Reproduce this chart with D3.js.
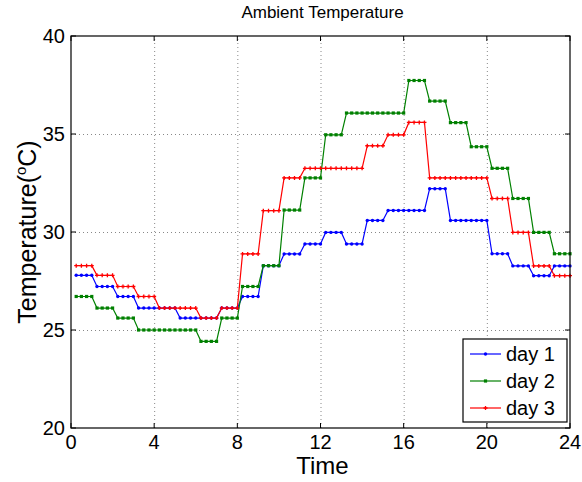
<!DOCTYPE html>
<html>
<head>
<meta charset="utf-8">
<script src="https://cdn.jsdelivr.net/npm/d3@7"></script>
<style>
  body { margin: 0; background: #fff; }
  svg { font-family: "Liberation Sans", Arial, sans-serif; }
  .grid line { stroke: #888; stroke-dasharray: 1 3; }
  .grid path { display: none; }
</style>
</head>
<body>
<div id="chart"></div>
<script>
// hourly readings (each held for four quarter-hour samples)
const hours = d3.range(1, 25);
const day1 = [27.79, 27.22, 26.71, 26.12, 26.12, 25.61, 25.61, 26.12, 26.71, 28.28, 28.88, 29.39,
              29.98, 29.39, 30.59, 31.10, 31.10, 32.21, 30.59, 30.59, 28.89, 28.27, 27.77, 28.27];
const day2 = [26.71, 26.12, 25.61, 25.00, 25.00, 25.00, 24.42, 25.61, 27.22, 28.28, 31.12, 32.76,
              34.96, 36.07, 36.07, 36.07, 37.73, 36.68, 35.58, 34.35, 33.25, 31.71, 29.98, 28.89];
const day3 = [28.28, 27.79, 27.22, 26.71, 26.12, 26.12, 25.61, 26.12, 28.88, 31.09, 32.76, 33.25,
              33.25, 33.25, 34.40, 34.96, 35.59, 32.76, 32.76, 32.76, 31.71, 29.98, 28.27, 27.77];
const seriesNames = ['day 1', 'day 2', 'day 3'];
const xTicks = [0, 4, 8, 12, 16, 20, 24];
const yTicks = [20, 25, 30, 35, 40];

const colors = ['#0000ff', '#008000', '#ff0000'];
const shapes = ['circle', 'square', 'plus'];

// quarter-hour samples: reading for hour h at h-0.75, h-0.5, h-0.25, h
const samples = vals => hours.flatMap((h, i) =>
  [0.75, 0.5, 0.25, 0].map(o => ({ t: h - o, v: vals[i] })));

const series = [day1, day2, day3].map((vals, i) => ({
  name: seriesNames[i], color: colors[i], shape: shapes[i], data: samples(vals),
}));

const W = 582, H = 482;
const margin = { top: 36, right: 12, bottom: 54, left: 71 };
const width = W - margin.left - margin.right;
const height = H - margin.top - margin.bottom;

const svg = d3.select('#chart').append('svg')
  .attr('width', W).attr('height', H);

const g = svg.append('g')
  .attr('transform', `translate(${margin.left},${margin.top})`);

const x = d3.scaleLinear().domain([0, 24]).range([0, width]);
const y = d3.scaleLinear().domain([20, 40]).range([height, 0]);

// grid
g.append('g').attr('class', 'grid')
  .attr('transform', `translate(0,${height})`)
  .call(d3.axisBottom(x).tickValues(xTicks.slice(1, -1)).tickSize(-height).tickFormat(''));
g.append('g').attr('class', 'grid')
  .call(d3.axisLeft(y).tickValues(yTicks.slice(1, -1)).tickSize(-width).tickFormat(''));

// lines
const line = d3.line().x(d => x(d.t)).y(d => y(d.v));

series.forEach((s) => {
  g.append('path')
    .attr('d', line(s.data))
    .attr('fill', 'none')
    .attr('stroke', s.color)
    .attr('stroke-width', 1.2);

  const m = g.append('g').selectAll('.m').data(s.data).enter();
  if (s.shape === 'circle') {
    m.append('circle')
      .attr('cx', d => x(d.t)).attr('cy', d => y(d.v))
      .attr('r', 1.7).attr('fill', s.color);
  } else if (s.shape === 'square') {
    m.append('rect')
      .attr('x', d => x(d.t) - 1.6).attr('y', d => y(d.v) - 1.6)
      .attr('width', 3.2).attr('height', 3.2).attr('fill', s.color);
  } else {
    m.append('path')
      .attr('d', d => `M${x(d.t) - 2},${y(d.v)}h4M${x(d.t)},${y(d.v) - 2}v4`)
      .attr('stroke', s.color).attr('stroke-width', 1.3);
  }
});

// frame + inward ticks on all sides
g.append('rect')
  .attr('width', width).attr('height', height)
  .attr('fill', 'none').attr('stroke', '#000').attr('stroke-width', 1.2);

const tickLen = 5;
xTicks.forEach((t) => {
  g.append('line').attr('x1', x(t)).attr('x2', x(t)).attr('y1', height).attr('y2', height - tickLen).attr('stroke', '#000');
  g.append('line').attr('x1', x(t)).attr('x2', x(t)).attr('y1', 0).attr('y2', tickLen).attr('stroke', '#000');
  g.append('text').attr('x', x(t)).attr('y', height + 21)
    .attr('text-anchor', 'middle').attr('font-size', 20).text(t);
});
yTicks.forEach((t) => {
  g.append('line').attr('x1', 0).attr('x2', tickLen).attr('y1', y(t)).attr('y2', y(t)).attr('stroke', '#000');
  g.append('line').attr('x1', width).attr('x2', width - tickLen).attr('y1', y(t)).attr('y2', y(t)).attr('stroke', '#000');
  g.append('text').attr('x', -6).attr('y', y(t) + 7)
    .attr('text-anchor', 'end').attr('font-size', 20).text(t);
});

// labels
svg.append('text').attr('x', margin.left + width / 2 + 2).attr('y', 18)
  .attr('text-anchor', 'middle').attr('font-size', 17).text('Ambient Temperature');
svg.append('text').attr('x', margin.left + width / 2 + 2).attr('y', 474)
  .attr('text-anchor', 'middle').attr('font-size', 24).text('Time');

const yl = svg.append('text')
  .attr('transform', `translate(36,${margin.top + height / 2}) rotate(-90)`)
  .attr('text-anchor', 'middle').attr('font-size', 25);
yl.append('tspan').text('Temperature(');
yl.append('tspan').attr('font-size', 15).attr('dy', -10).text('o');
yl.append('tspan').attr('dy', 10).text('C)');

// legend
const lg = g.append('g').attr('transform', `translate(${width - 107},${height - 89})`);
lg.append('rect').attr('width', 104).attr('height', 83)
  .attr('fill', '#fff').attr('stroke', '#000').attr('stroke-width', 1.2);
series.forEach((s, i) => {
  const ly = 15 + i * 27;
  lg.append('line').attr('x1', 7).attr('x2', 38).attr('y1', ly).attr('y2', ly)
    .attr('stroke', s.color).attr('stroke-width', 1.2);
  if (s.shape === 'circle') {
    lg.append('circle').attr('cx', 22.5).attr('cy', ly).attr('r', 1.7).attr('fill', s.color);
  } else if (s.shape === 'square') {
    lg.append('rect').attr('x', 20.9).attr('y', ly - 1.6).attr('width', 3.2).attr('height', 3.2).attr('fill', s.color);
  } else {
    lg.append('path').attr('d', `M20.5,${ly}h4M22.5,${ly - 2}v4`).attr('stroke', s.color).attr('stroke-width', 1.3);
  }
  lg.append('text').attr('x', 43).attr('y', ly + 7).attr('font-size', 20).text(s.name);
});
</script>
</body>
</html>
